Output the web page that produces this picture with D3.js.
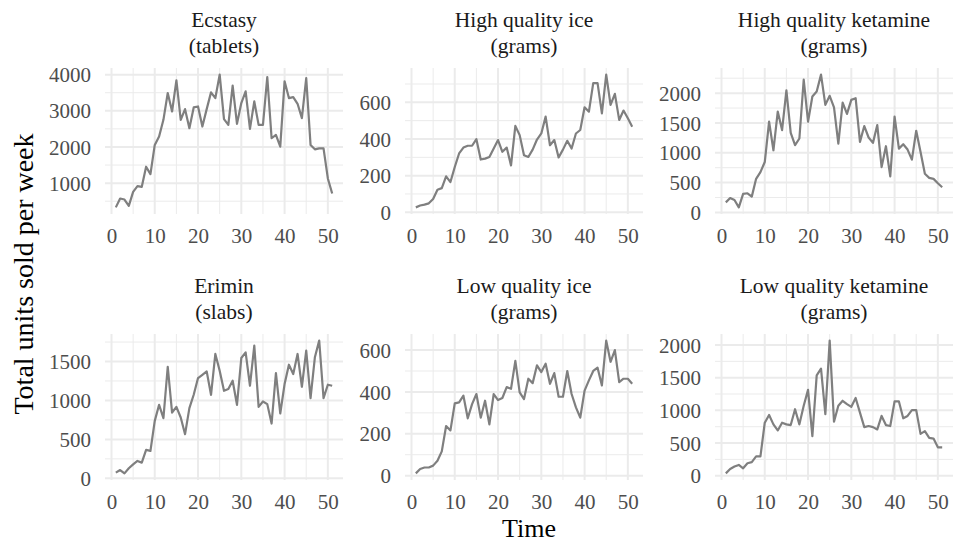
<!DOCTYPE html>
<html>
<head>
<meta charset="utf-8">
<script src="https://cdn.jsdelivr.net/npm/d3@7"></script>
<style>
  body { margin: 0; background: #fff; }
  svg { display: block; }
  svg text { font-family: "Liberation Serif", "Times New Roman", Times, "DejaVu Serif", "Noto Serif", serif; }
</style>
</head>
<body>
<svg id="chart" width="953" height="544"></svg>
<script>
// weeks 1..51
let weeks = d3.range(1, 52);

let ecstasy = [330, 574, 546, 370, 759, 917, 898, 1454, 1250, 2056, 2287, 2750, 3491, 2981, 3843, 2750, 3046, 2519, 3093, 3120,
  2565, 3046, 3509, 3352, 4000, 2769, 2611, 3694, 2639, 3213, 3537, 2500, 3259, 2611, 2611, 3935, 2241, 2333, 2009, 3815,
  3352, 3380, 3194, 2796, 3907, 2056, 1935, 1963, 1963, 1130, 713];

let hqIce = [27, 37, 42, 49, 73, 123, 132, 196, 165, 247, 321, 353, 363, 363, 399, 288, 293, 302, 348, 394,
  330, 353, 256, 471, 421, 311, 302, 342, 397, 430, 522, 366, 394, 299, 342, 390, 348, 430, 449, 573,
  549, 705, 705, 540, 751, 586, 646, 504, 555, 513, 467];

let hqKetamine = [169, 242, 208, 85, 310, 321, 265, 563, 676, 845, 1521, 1042, 1690, 1380, 2045, 1335, 1127, 1239, 2225, 1521,
  1944, 2028, 2310, 1803, 1955, 1763, 1155, 1842, 1651, 1887, 1915, 1183, 1448, 1256, 1166, 1465, 761, 1110, 603, 1606,
  1070, 1144, 1054, 885, 1369, 1014, 648, 580, 563, 490, 423];

let erimin = [73, 107, 64, 129, 180, 223, 202, 365, 352, 738, 944, 773, 1433, 845, 918, 781, 567, 901, 1073, 1288,
  1330, 1373, 1073, 1597, 1382, 1124, 1146, 1253, 944, 1545, 1618, 1189, 1704, 918, 987, 953, 704, 1352, 833, 1210,
  1459, 1339, 1597, 1176, 1639, 1030, 1554, 1768, 1030, 1202, 1189];

let lqIce = [11, 32, 39, 39, 48, 71, 116, 237, 216, 345, 350, 382, 274, 342, 390, 277, 358, 245, 390, 361,
  371, 423, 415, 548, 398, 366, 463, 442, 527, 495, 535, 439, 490, 377, 377, 500, 390, 326, 277, 406,
  455, 500, 516, 431, 645, 544, 600, 447, 463, 463, 439];

let lqKetamine = [36, 103, 140, 165, 114, 191, 207, 295, 295, 811, 930, 786, 693, 811, 786, 775, 1018, 786, 1070, 1313,
  605, 1535, 1638, 941, 2067, 827, 1070, 1147, 1096, 1054, 1189, 966, 744, 760, 744, 708, 915, 775, 760, 1137,
  1137, 879, 915, 1003, 1003, 641, 682, 579, 568, 434, 434];

let titles = [
  ['Ecstasy', '(tablets)'],
  ['High quality ice', '(grams)'],
  ['High quality ketamine', '(grams)'],
  ['Erimin', '(slabs)'],
  ['Low quality ice', '(grams)'],
  ['Low quality ketamine', '(grams)']
];

let xTicks = [0, 10, 20, 30, 40, 50];
let yTicks = [
  [1000, 2000, 3000, 4000],
  [0, 200, 400, 600],
  [0, 500, 1000, 1500, 2000],
  [0, 500, 1000, 1500],
  [0, 200, 400, 600],
  [0, 500, 1000, 1500, 2000]
];

let series = [ecstasy, hqIce, hqKetamine, erimin, lqIce, lqKetamine];

// layout
let colLeft = [105, 405, 715];
let rowTop = [68, 334];
let panelW = 238;
let panelH = 146;
let serif = '"Liberation Serif", "Times New Roman", Times, "DejaVu Serif", "Noto Serif", serif';

let svg = d3.select('#chart');

// ggplot style 5% expansion
function expand(ext) {
  let pad = (ext[1] - ext[0]) * 0.05;
  return [ext[0] - pad, ext[1] + pad];
}

function midpoints(ticks, domain) {
  let step = ticks[1] - ticks[0];
  let out = [];
  for (let t = ticks[0] - step / 2; t <= ticks[ticks.length - 1] + step; t += step) {
    if (t >= domain[0] && t <= domain[1]) out.push(t);
  }
  return out;
}

series.forEach(function (values, i) {
  let col = i % 3;
  let row = Math.floor(i / 3);
  let g = svg.append('g')
    .attr('transform', 'translate(' + colLeft[col] + ',' + rowTop[row] + ')');

  let x = d3.scaleLinear()
    .domain(expand(d3.extent(weeks)))
    .range([0, panelW]);

  let y = d3.scaleLinear()
    .domain(expand(d3.extent(values)))
    .range([panelH, 0]);

  // minor grid
  g.append('g').selectAll('line')
    .data(midpoints(yTicks[i], y.domain()))
    .enter().append('line')
    .attr('x1', 0).attr('x2', panelW)
    .attr('y1', y).attr('y2', y)
    .attr('stroke', '#ebebeb').attr('stroke-width', 1);

  g.append('g').selectAll('line')
    .data(midpoints(xTicks, x.domain()))
    .enter().append('line')
    .attr('y1', 0).attr('y2', panelH)
    .attr('x1', x).attr('x2', x)
    .attr('stroke', '#ebebeb').attr('stroke-width', 1);

  // major grid
  g.append('g').selectAll('line')
    .data(yTicks[i])
    .enter().append('line')
    .attr('x1', 0).attr('x2', panelW)
    .attr('y1', y).attr('y2', y)
    .attr('stroke', '#ebebeb').attr('stroke-width', 2);

  g.append('g').selectAll('line')
    .data(xTicks)
    .enter().append('line')
    .attr('y1', 0).attr('y2', panelH)
    .attr('x1', x).attr('x2', x)
    .attr('stroke', '#ebebeb').attr('stroke-width', 2);

  // axes (labels only, like theme_minimal)
  let yAxis = g.append('g')
    .call(d3.axisLeft(y).tickValues(yTicks[i]).tickSize(0).tickPadding(14).tickFormat(d3.format('d')));
  let xAxis = g.append('g')
    .attr('transform', 'translate(0,' + panelH + ')')
    .call(d3.axisBottom(x).tickValues(xTicks).tickSize(0).tickPadding(14).tickFormat(d3.format('d')));

  [yAxis, xAxis].forEach(function (ax) {
    ax.attr('font-family', serif).attr('font-size', 21);
    ax.select('.domain').remove();
    ax.selectAll('text').attr('fill', '#4d4d4d');
  });
  yAxis.selectAll('text').attr('dy', '0.34em');
  xAxis.selectAll('text').attr('dy', '0.72em');

  // series line
  g.append('path')
    .datum(values)
    .attr('fill', 'none')
    .attr('stroke', '#7f7f7f')
    .attr('stroke-width', 2.2)
    .attr('stroke-linejoin', 'round')
    .attr('d', d3.line()
      .x(function (d, j) { return x(weeks[j]); })
      .y(function (d) { return y(d); }));

  // strip title
  let strip = g.append('text')
    .attr('text-anchor', 'middle')
    .attr('fill', '#1a1a1a')
    .attr('font-family', serif)
    .attr('font-size', 21.5);
  strip.append('tspan').attr('x', panelW / 2).attr('y', -41).text(titles[i][0]);
  strip.append('tspan').attr('x', panelW / 2).attr('y', -15).text(titles[i][1]);
});

// axis titles
svg.append('text')
  .attr('transform', 'translate(33,274) rotate(-90)')
  .attr('text-anchor', 'middle')
  .attr('fill', '#000')
  .attr('font-family', serif)
  .attr('font-size', 28)
  .text('Total units sold per week');

svg.append('text')
  .attr('x', 529)
  .attr('y', 537)
  .attr('text-anchor', 'middle')
  .attr('fill', '#000')
  .attr('font-family', serif)
  .attr('font-size', 26)
  .text('Time');
</script>
</body>
</html>
